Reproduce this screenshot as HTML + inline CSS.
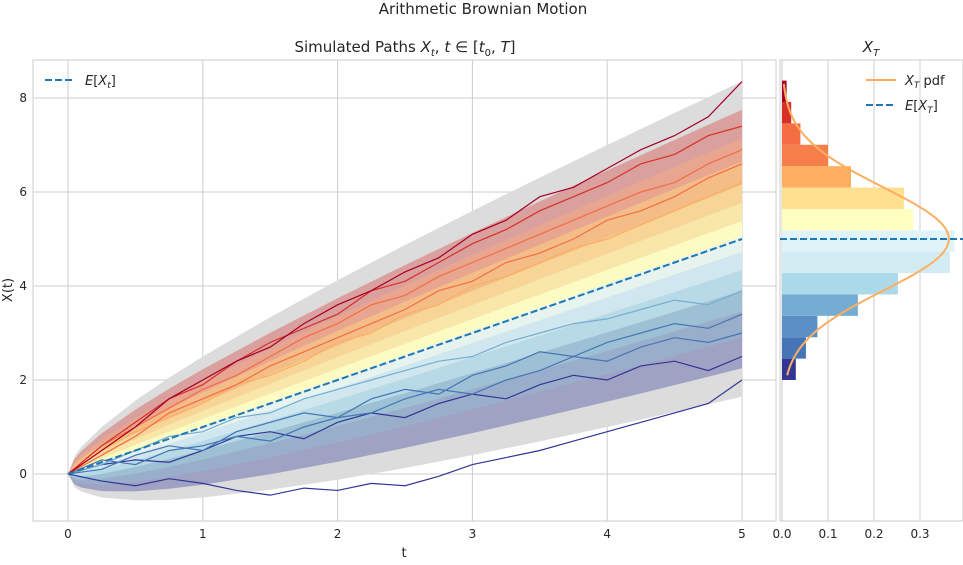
<!DOCTYPE html>
<html><head><meta charset="utf-8">
<style>
body{margin:0;background:#fff;font-family:"Liberation Sans","DejaVu Sans",sans-serif;}
svg text{font-family:"DejaVu Sans","Liberation Sans",sans-serif;fill:#262626;}
</style></head>
<body>
<svg id="chart" width="963" height="560" xmlns="http://www.w3.org/2000/svg">
<text x="483" y="14" font-size="15" text-anchor="middle">Arithmetic Brownian Motion</text>
<text x="405" y="52" font-size="15" text-anchor="middle">Simulated Paths <tspan font-style="italic">X</tspan><tspan font-size="10" dy="4" font-style="italic">t</tspan><tspan dy="-4">, </tspan><tspan font-style="italic">t</tspan> ∈ [<tspan font-style="italic">t</tspan><tspan font-size="10" dy="4">0</tspan><tspan dy="-4">, </tspan><tspan font-style="italic">T</tspan>]</text>
<text x="871" y="52" font-size="15" text-anchor="middle"><tspan font-style="italic">X</tspan><tspan font-size="10" dy="4" font-style="italic">T</tspan></text>
<text x="404" y="557" font-size="13" text-anchor="middle">t</text>
<text transform="translate(12,290) rotate(-90)" font-size="13" text-anchor="middle">X(t)</text>
<g id="main"></g>
<g id="side"></g>
</svg>
<script>
// ---- data ----
const times = [0,0.05,0.1,0.25,0.5,0.75,1,1.5,2,2.5,3,3.5,4,4.5,5];
const meanPath = [0,0.05,0.1,0.25,0.5,0.75,1,1.5,2,2.5,3,3.5,4,4.5,5];
const sdPath = [0,0.11,0.156,0.246,0.348,0.426,0.492,0.602,0.696,0.778,0.852,0.920,0.984,1.044,1.1];
const bandZ = 3.05;
const quantileZ = [-2.5,-1.9,-1.4,-1.0,-0.6,-0.25,0.05,0.35,0.7,1.05,1.5,1.95,2.5];
const quantileColors = ['#313695','#4575b4','#74add1','#abd9e9','#cfe9f2','#e8f5f0','#ffffbf','#fee8a0','#fed385','#fdae61','#f46d43','#d73027'];
const quantileOpacity = [0.35,0.45,0.6,0.75,0.85,0.9,0.9,0.85,0.8,0.7,0.5,0.35];
const pathTimes = [0,0.25,0.5,0.75,1,1.25,1.5,1.75,2,2.25,2.5,2.75,3,3.25,3.5,3.75,4,4.25,4.5,4.75,5];
const samplePaths = [
 {c:'#313695',v:[0,-0.15,-0.25,-0.1,-0.2,-0.35,-0.45,-0.3,-0.35,-0.2,-0.25,-0.05,0.2,0.35,0.5,0.7,0.9,1.1,1.3,1.5,2.0]},
 {c:'#313695',v:[0,0.2,0.3,0.25,0.5,0.8,0.9,0.75,1.1,1.3,1.2,1.5,1.7,1.6,1.9,2.1,2.0,2.3,2.4,2.2,2.5]},
 {c:'#4575b4',v:[0,0.3,0.2,0.5,0.6,0.8,0.7,1.0,1.2,1.3,1.6,1.8,1.7,2.0,2.2,2.5,2.4,2.7,2.9,2.8,3.0]},
 {c:'#4575b4',v:[0,0.1,0.4,0.6,0.5,0.9,1.1,1.3,1.2,1.6,1.8,1.7,2.1,2.3,2.6,2.5,2.8,3.0,3.2,3.1,3.4]},
 {c:'#74add1',v:[0,0.2,0.5,0.8,0.9,1.2,1.3,1.6,1.8,2.0,2.2,2.4,2.5,2.8,3.0,3.2,3.3,3.5,3.7,3.6,3.9]},
 {c:'#fdae61',v:[0,0.5,0.9,1.2,1.5,1.9,2.1,2.4,2.8,3.0,3.4,3.6,4.0,4.2,4.5,4.8,5.0,5.3,5.6,5.9,6.2]},
 {c:'#f46d43',v:[0,0.6,1.0,1.4,1.8,2.1,2.5,2.9,3.2,3.6,3.8,4.2,4.5,4.8,5.1,5.4,5.7,6.0,6.2,6.6,6.9]},
 {c:'#f46d43',v:[0,0.4,0.8,1.3,1.6,1.9,2.3,2.6,2.9,3.2,3.5,3.9,4.1,4.5,4.7,5.0,5.4,5.6,5.9,6.3,6.6]},
 {c:'#d73027',v:[0,0.6,1.1,1.6,1.9,2.4,2.8,3.1,3.4,3.9,4.1,4.5,4.9,5.2,5.6,5.9,6.2,6.6,6.8,7.2,7.4]},
 {c:'#a50026',v:[0,0.5,1.0,1.6,2.0,2.4,2.7,3.2,3.6,3.9,4.3,4.6,5.1,5.4,5.9,6.1,6.5,6.9,7.2,7.6,8.35]}
];
const xTicks = [0,1,2,3,4,5];
const yTicks = [0,2,4,6,8];
const binStart = 2.0, binWidth = 0.455;
const densities = [0.03,0.052,0.077,0.165,0.252,0.365,0.375,0.285,0.265,0.15,0.1,0.04,0.02,0.01];
const binColors = ['#313695','#4575b4','#5b8fc5','#74add1','#abd9e9','#d3ecf4','#e0f3f8','#ffffbf','#fee090','#fdae61','#f67e4b','#f46d43','#d73027','#a50026'];
const histTicks = [0,0.1,0.2,0.3];
const pdfMean = 5, pdfSd = 1.1;
const expectedT = 5;

// ---- axes ----
const NS='http://www.w3.org/2000/svg';
const X = t => 68 + (t-0)*134.8;
const Y = v => 474 - v*47;
const HX = d => 782 + d*460;
function mk(tag,attrs,parent){const e=document.createElementNS(NS,tag);for(const k in attrs)e.setAttribute(k,attrs[k]);parent.appendChild(e);return e;}
const main=document.getElementById('main'), side=document.getElementById('side');

mk('rect',{x:33,y:60,width:743,height:461,fill:'#fff',stroke:'#cccccc'},main);
mk('rect',{x:780,y:60,width:183,height:461,fill:'#fff',stroke:'#cccccc'},side);
xTicks.forEach(t=>{
  const l=mk('line',{x1:X(t),x2:X(t),y1:60,y2:521,stroke:'#cccccc'},main);
  
  
  const tx=mk('text',{x:X(t),y:538,'font-size':12,'text-anchor':'middle'},main);tx.textContent=t;
  
  
});
yTicks.forEach(v=>{
  [[33,776],[780,963]].forEach(([a,b])=>{
    const l=mk('line',{x1:a,x2:b,y1:Y(v),y2:Y(v),stroke:'#cccccc'},main);
    
    
  });
  const tx=mk('text',{x:27,y:Y(v)+4,'font-size':12,'text-anchor':'end'},main);tx.textContent=v;
  
  
});
histTicks.forEach(d=>{
  const l=mk('line',{x1:HX(d),x2:HX(d),y1:60,y2:521,stroke:'#cccccc'},side);
  
  
  const tx=mk('text',{x:HX(d),y:538,'font-size':12,'text-anchor':'middle'},side);tx.textContent=d===0?'0.0':d;
  
  
});

let up=times.map((t,i)=>X(t)+','+Y(meanPath[i]+bandZ*sdPath[i]));
let lo=times.map((t,i)=>X(t)+','+Y(meanPath[i]-bandZ*sdPath[i])).reverse();
const band=mk('polygon',{points:up.concat(lo).join(' '),fill:'#dcdcdc',stroke:'none'},main);



for(let k=0;k<quantileZ.length-1;k++){
  const a=times.map((t,i)=>X(t)+','+Y(meanPath[i]+quantileZ[k]*sdPath[i]));
  const b=times.map((t,i)=>X(t)+','+Y(meanPath[i]+quantileZ[k+1]*sdPath[i])).reverse();
  const p=mk('polygon',{points:a.concat(b).join(' '),fill:quantileColors[k],'fill-opacity':quantileOpacity[k],stroke:'none'},main);
  
  
}
samplePaths.forEach(sp=>{
  const p=mk('polyline',{points:pathTimes.map((t,i)=>X(t)+','+Y(sp.v[i])).join(' '),fill:'none',stroke:sp.c,'stroke-width':1.2},main);
  
  
});
const ml=mk('polyline',{points:times.map((t,i)=>X(t)+','+Y(meanPath[i])).join(' '),fill:'none',stroke:'#1f77b4','stroke-width':2,'stroke-dasharray':'7,3'},main);



densities.forEach((d,i)=>{
  const y0=Y(binStart+(i+1)*binWidth), y1=Y(binStart+i*binWidth);
  const r=mk('rect',{x:HX(0),y:y0,width:HX(d)-HX(0),height:y1-y0,fill:binColors[i]},side);
  
  
});
const pts=[];
for(let v=2.1;v<=8.3;v+=0.05){const d=Math.exp(-0.5*((v-pdfMean)/pdfSd)**2)/(pdfSd*Math.sqrt(2*Math.PI));pts.push(HX(d)+','+Y(v));}
const pdf=mk('polyline',{points:pts.join(' '),fill:'none',stroke:'#fdae61','stroke-width':2},side);


const el=mk('line',{x1:780,x2:963,y1:Y(expectedT),y2:Y(expectedT),stroke:'#1f77b4','stroke-width':2,'stroke-dasharray':'7,3'},side);



const lg=mk('g',{},main);


mk('line',{x1:45,x2:75,y1:80,y2:80,stroke:'#1f77b4','stroke-width':2,'stroke-dasharray':'7,3'},lg);
let t1=mk('text',{x:85,y:85,'font-size':13},lg);t1.innerHTML='<tspan font-style="italic">E</tspan>[<tspan font-style="italic">X</tspan><tspan font-size="9" dy="3" font-style="italic">t</tspan><tspan dy="-3">]</tspan>';
const lg2=mk('g',{},side);


mk('line',{x1:866,x2:896,y1:80,y2:80,stroke:'#fdae61','stroke-width':2},lg2);
let t2=mk('text',{x:905,y:85,'font-size':13},lg2);t2.innerHTML='<tspan font-style="italic">X</tspan><tspan font-size="9" dy="3" font-style="italic">T</tspan><tspan dy="-3"> pdf</tspan>';
mk('line',{x1:866,x2:896,y1:105,y2:105,stroke:'#1f77b4','stroke-width':2,'stroke-dasharray':'7,3'},lg2);
let t3=mk('text',{x:905,y:110,'font-size':13},lg2);t3.innerHTML='<tspan font-style="italic">E</tspan>[<tspan font-style="italic">X</tspan><tspan font-size="9" dy="3" font-style="italic">T</tspan><tspan dy="-3">]</tspan>';
</script>
</body></html>
